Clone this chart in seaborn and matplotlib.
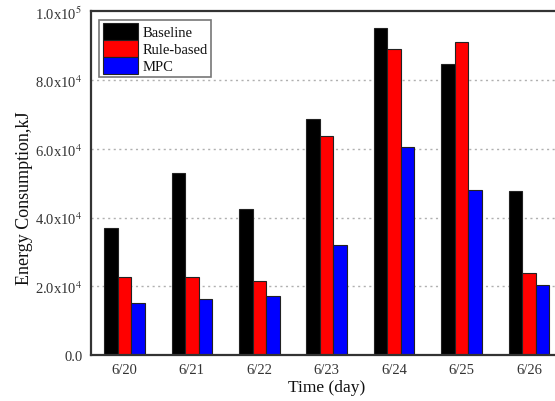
import numpy as np
import pandas as pd
import matplotlib
matplotlib.use("Agg")
import matplotlib.pyplot as plt
import seaborn as sns
from matplotlib.ticker import FixedLocator

days = ["6/20", "6/21", "6/22", "6/23", "6/24", "6/25", "6/26"]
baseline = [37000, 52900, 42400, 68800, 95200, 84800, 47700]
rule_based = [22600, 22600, 21500, 63700, 89000, 91100, 23800]
mpc = [15100, 16200, 17200, 32100, 60600, 47900, 20500]
series_names = ["Baseline", "Rule-based", "MPC"]
yticks = [0, 20000, 40000, 60000, 80000, 100000]
ytick_labels = ["0.0", "2.0x10$^4$", "4.0x10$^4$", "6.0x10$^4$", "8.0x10$^4$", "1.0x10$^5$"]

df = pd.DataFrame({
    "day": days * 3,
    "value": baseline + rule_based + mpc,
    "series": [series_names[0]] * 7 + [series_names[1]] * 7 + [series_names[2]] * 7,
})

sns.set_theme(style="white")
plt.rcParams["font.family"] = ["Liberation Serif", "DejaVu Serif"]
plt.rcParams["mathtext.fontset"] = "stix"

fig = plt.figure(figsize=(5.55, 4.02), dpi=100)
ax = fig.add_axes([0.1634, 0.1144, 1.014 - 0.1634, 0.969 - 0.1144])

sns.barplot(data=df, x="day", y="value", hue="series", order=days,
            hue_order=series_names, palette=["#000000", "#ff0000", "#0000ff"],
            width=0.6, edgecolor="#222222", linewidth=0.8, ax=ax, saturation=1)

ax.set_xlim(-0.5, 6.5)
ax.set_ylim(0, 100000)
ax.yaxis.set_major_locator(FixedLocator(yticks))
ax.set_yticklabels(ytick_labels)
for y in yticks[1:-1]:
    ax.axhline(y, color="#b0b0b0", linestyle=(0, (1.5, 2.5)), linewidth=1.0, zorder=0)

ax.tick_params(axis="both", length=0, labelsize=10.5, colors="#333333", pad=6)
ax.set_xlabel("Time (day)", fontsize=12.5, color="#111111", labelpad=2)
ax.set_ylabel("Energy Consumption,kJ", fontsize=13, color="#111111", labelpad=0)
ax.yaxis.set_label_coords(-0.122, 0.46)

for side in ["left", "bottom", "top"]:
    ax.spines[side].set_visible(True)
    ax.spines[side].set_color("#333333")
    ax.spines[side].set_linewidth(1.6)
ax.spines["right"].set_visible(False)

leg = ax.legend(loc="upper left", bbox_to_anchor=(0.012, 0.985), fontsize=10.5,
                frameon=True, fancybox=False, edgecolor="#555555",
                handlelength=2.4, handleheight=1.4, handletextpad=0.3,
                borderpad=0.25, labelspacing=0.0, borderaxespad=0.2)
leg.get_frame().set_linewidth(1.2)
for t in leg.get_texts():
    t.set_color("#111111")

fig.savefig("out.png", dpi=100)
